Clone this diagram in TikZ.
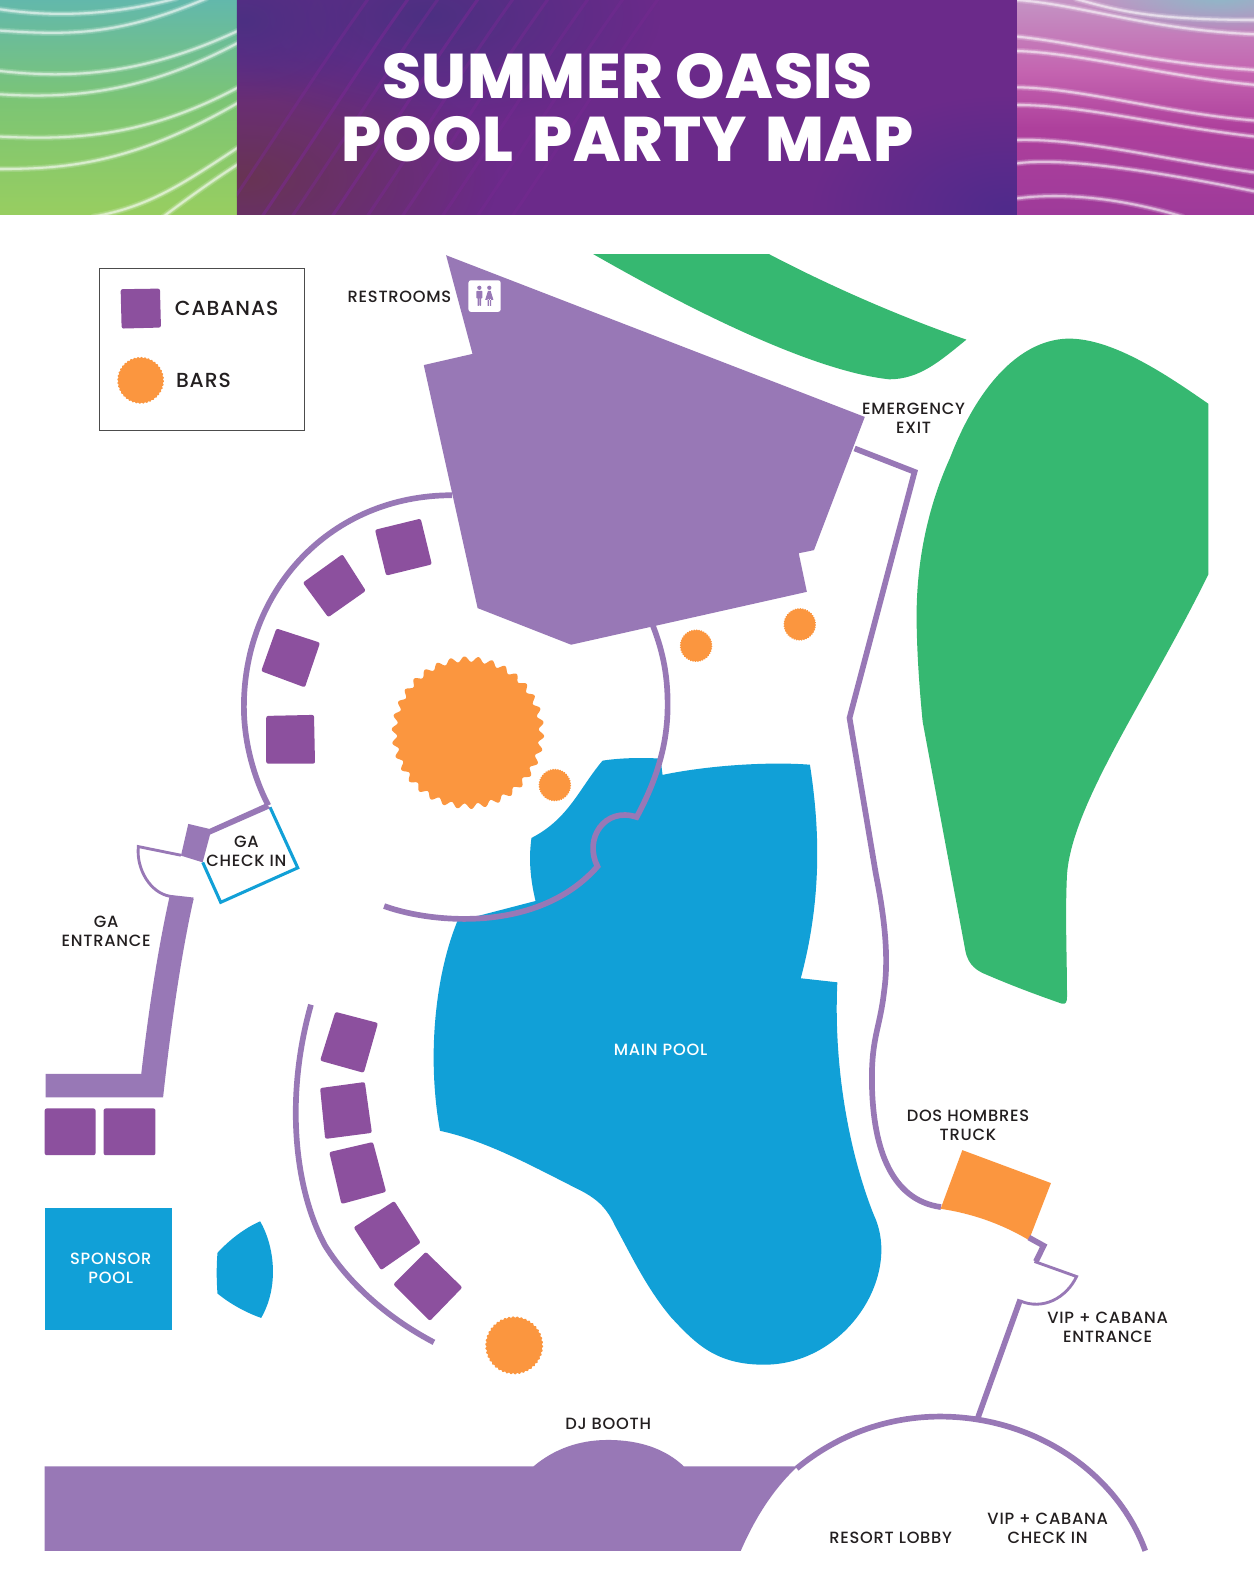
\documentclass[tikz,border=0pt]{standalone}
\usepackage{fontspec}
\setmainfont{Poppins Medium}[LetterSpace=4.5]
\newfontfamily\titlefont{Poppins ExtraBold}[LetterSpace=1]
\usetikzlibrary{fadings}
\tikzfading[name=softc,inner color=transparent!0,outer color=transparent!100]
\definecolor{roomp}{HTML}{9878B6}
\definecolor{cabp}{HTML}{8C509E}
\definecolor{barc}{HTML}{FB963F}
\definecolor{poolc}{HTML}{11A0D7}
\definecolor{lawn}{HTML}{36B871}
\definecolor{inkc}{HTML}{231F20}
\definecolor{titlep}{HTML}{6B2A8A}
\definecolor{gA}{RGB}{98,184,172}
\definecolor{gB}{RGB}{124,197,116}
\definecolor{gC}{RGB}{152,206,96}
\definecolor{cMar}{RGB}{104,52,84}
\definecolor{cBlu}{RGB}{76,48,130}
\definecolor{cBlr}{RGB}{80,42,140}
\definecolor{cLin}{RGB}{124,40,150}
\definecolor{mA}{RGB}{196,148,196}
\definecolor{mB}{RGB}{196,100,176}
\definecolor{mC}{RGB}{174,64,156}
\definecolor{mD}{RGB}{158,58,154}
\definecolor{mT}{RGB}{140,185,200}
\newcommand{\sunbar}[5]{\fill[barc] plot[domain=0:359.5,samples=720] ({#1+(#3-#4+#4*sin(#5*\x))*cos(\x)},{#2+(#3-#4+#4*sin(#5*\x))*sin(\x)}) -- cycle;}
\tikzset{
  wall/.style={draw=roomp,line width=5.6pt,fill=none},
  thinwall/.style={draw=roomp,line width=2.8pt,fill=none},
  cabana/.style={fill=cabp,rounded corners=2pt},
  room/.style={fill=roomp},
  pool/.style={fill=poolc},
  lawnfill/.style={fill=lawn},
  lbl/.style={text=inkc,font=\fontsize{16}{18.6}\selectfont,align=center,inner sep=0pt},
  wlbl/.style={lbl,text=white},
  wavea/.style={draw=white,line width=6pt,opacity=.16,line cap=round},
  wavem/.style={draw=white,line width=3.6pt,opacity=.22,line cap=round},
  waveb/.style={draw=white,line width=2pt,opacity=.5,line cap=round},
}
\newcommand{\wave}[4]{\draw[wavea] #1 .. controls #2 and #3 .. #4; \draw[wavem] #1 .. controls #2 and #3 .. #4; \draw[waveb] #1 .. controls #2 and #3 .. #4;}
\begin{document}
\begin{tikzpicture}[x=1pt,y=-1.0007pt]
\useasboundingbox (0,0) rectangle (1234,1567.5);
\fill[white] (0,0) rectangle (1234,1567.5);
% ---------- banner left
\begin{scope}
\clip (0,0) rectangle (233,211);
\shade[top color=gA,bottom color=gB] (0,-1) rectangle (233,100.5);
\shade[top color=gB,bottom color=gC] (0,100) rectangle (233,212);
\begin{scope}[x=.328pt,y=-.328pt]
\wave{(0,28)}{(150,50)}{(320,50)}{(530,-5)}
\wave{(0,92)}{(200,105)}{(350,110)}{(620,-5)}
\wave{(0,213)}{(200,235)}{(420,230)}{(715,92)}
\wave{(0,283)}{(200,295)}{(420,285)}{(715,128)}
\wave{(0,410)}{(200,418)}{(420,420)}{(715,262)}
\wave{(0,507)}{(200,507)}{(400,490)}{(715,308)}
\wave{(280,650)}{(450,620)}{(550,550)}{(715,442)}
\wave{(490,650)}{(570,590)}{(640,540)}{(715,492)}
\end{scope}
\end{scope}
% ---------- banner centre
\begin{scope}
\clip (233,0) rectangle (1001,211);
\fill[titlep] (233,-1) rectangle (1001,212);
\fill[cMar,path fading=softc] (240,175) ellipse (250 and 130);
\fill[cBlu,path fading=softc] (420,15) ellipse (230 and 110);
\fill[cBlu,path fading=softc] (240,20) ellipse (120 and 80);
\fill[cBlr,path fading=softc] (990,205) ellipse (190 and 110);
\begin{scope}[shift={(232.2,0)},x=.492pt,y=-.492pt]
\foreach \s/\o in {-60/.4,20/.5,80/.4,160/.5,230/.4,300/.4,380/.35,450/.3,520/.3}{
  \draw[draw=cLin,line width=3pt,opacity=\o] (\s-120,650) .. controls (\s+50,420) and (\s+200,170) .. (\s+330,-10);
}
\foreach \s in {0,60,120}{
  \draw[draw=cLin,line width=2.5pt,opacity=.35] (1230+\s,650) .. controls (1300+\s,540) and (1400+\s,480) .. (1570,440+\s);
}
\end{scope}
\end{scope}
% ---------- banner right
\begin{scope}
\clip (1001,0) rectangle (1234,211);
\shade[top color=mA,bottom color=mB] (1001,-1) rectangle (1234,70.5);
\shade[top color=mB,bottom color=mC] (1001,70) rectangle (1234,125.5);
\shade[top color=mC,bottom color=mD] (1001,125) rectangle (1234,212);
\fill[mT,path fading=softc] (1200,-5) ellipse (130 and 40);
\begin{scope}[shift={(999.8,0)},x=.328pt,y=-.328pt]
\wave{(180,-3)}{(300,30)}{(400,60)}{(720,60)}
\wave{(5,0)}{(200,15)}{(400,90)}{(720,103)}
\wave{(5,110)}{(200,130)}{(400,190)}{(720,210)}
\wave{(5,153)}{(200,160)}{(450,230)}{(720,255)}
\wave{(5,262)}{(200,265)}{(450,340)}{(720,362)}
\wave{(5,315)}{(200,315)}{(450,380)}{(720,410)}
\wave{(5,420)}{(200,415)}{(450,480)}{(720,518)}
\wave{(5,490)}{(150,470)}{(450,520)}{(720,575)}
\wave{(5,595)}{(200,570)}{(400,620)}{(500,650)}
\end{scope}
\end{scope}
\node[text=white,font=\titlefont\fontsize{62}{61.5}\selectfont,align=center,inner sep=0pt] (title) at (617.5,106) {SUMMER OASIS\\POOL\hspace{6pt} PARTY\hspace{6pt} MAP};
% ---------- green
\fill[lawnfill] (584,250) -- (757,250) .. controls (820,283) and (890,313) .. (951,334) .. controls (925,355) and (905,373) .. (875,373) .. controls (800,365) and (680,305) .. (584,250) -- cycle;
\fill[lawnfill] (1189,397) .. controls (1150,370) and (1095,332) .. (1050,333) .. controls (1000,335) and (960,385) .. (935,450) .. controls (910,505) and (902,560) .. (902,605) .. controls (902,640) and (905,680) .. (908,710) -- (950,935) .. controls (953,950) and (962,955) .. (972,959) .. controls (1000,971) and (1025,980) .. (1045,987) .. controls (1049,988) and (1050,985) .. (1050,980) .. controls (1050,940) and (1048,900) .. (1050,860) .. controls (1055,790) and (1130,685) .. (1189,565) -- cycle;
% ---------- main pool
\fill[pool] (593,748) .. controls (612,745) and (635,745) .. (650,746) -- (652,762) .. controls (700,752) and (760,749) .. (797,752) .. controls (806,810) and (810,880) .. (788,962) -- (824,966) .. controls (820,1050) and (836,1135) .. (860,1195) .. controls (888,1255) and (832,1342) .. (752,1342) .. controls (705,1342) and (685,1322) .. (660,1295) .. controls (635,1265) and (620,1232) .. (605,1205) .. controls (598,1190) and (590,1180) .. (570,1170) .. controls (530,1150) and (480,1122) .. (433,1112) .. controls (420,1040) and (428,960) .. (450,906) -- (527,886) .. controls (522,865) and (520,845) .. (523,824) .. controls (560,805) and (570,775) .. (593,748) -- cycle;
% ---------- sponsor pool
\fill[pool] (44,1188) rectangle (169,1308);
\fill[pool] (256,1201) .. controls (270,1225) and (275,1265) .. (257,1296) .. controls (240,1290) and (225,1281) .. (214,1272) .. controls (213,1258) and (213,1245) .. (214,1232) .. controls (225,1220) and (240,1208) .. (256,1201) -- cycle;
% ---------- building
\fill[room] (439,251) -- (851,410) -- (801,541) -- (786,544) -- (794,582) -- (562,634) -- (470,598) -- (417,359) -- (465,348) -- cycle;
% restroom icon
\fill[white,rounded corners=2.5pt] (461,275.6) rectangle (492.7,306.7);
\fill[roomp] (471.7,283) circle (2.1) (481.5,283) circle (2.1);
\fill[roomp,rounded corners=.6pt] (468.8,286) rectangle (474.6,293.5) (469.9,292) rectangle (471.4,300.8) (472,292) rectangle (473.5,300.8);
\fill[roomp] (480.2,286) -- (482.8,286) -- (485.6,295) -- (477.4,295) -- cycle (479.8,294) rectangle (481,300.8) (482,294) rectangle (483.2,300.8);
% ---------- walls
\draw[wall] (445,487) .. controls (325,487) and (240,580) .. (240,695) .. controls (240,730) and (250,765) .. (264,792);
\draw[wall] (378,891) .. controls (425,908) and (530,918) .. (588,852) .. controls (574,825) and (595,793) .. (626.5,803.5) .. controls (650,760) and (657,725) .. (657,693) .. controls (657,660) and (651,637) .. (642,614);
\draw[draw=poolc,line width=3pt,line join=miter] (265.7,793.8) -- (293,853.4) -- (217.2,887.3) -- (199.5,848);
\fill[room] (185.3,810.2) -- (206,815.1) -- (260.8,790.5) -- (266.4,794.5) -- (206.7,820.7) -- (199.4,848) -- (178.1,841.4) -- cycle;
\draw[thinwall] (178,841) -- (136.1,832.5) .. controls (134,855) and (148,878) .. (167.3,881.4) -- (190.3,884);
\fill[room] (167,881) -- (190.5,884) .. controls (178,940) and (168,1010) .. (160.5,1079) -- (45,1079) -- (45,1056) -- (139,1056) .. controls (146,995) and (155,935) .. (167,881) -- cycle;
\draw[wall] (841,441) -- (900,464) -- (836,706) -- (862,860) .. controls (870,900) and (875,940) .. (870,975) .. controls (866,1010) and (858,1020) .. (858,1060) .. controls (858,1125) and (875,1180) .. (926,1187);
\fill[barc] (947,1131) -- (1034.2,1163.4) -- (1012.5,1219.5) .. controls (985,1203) and (955,1193) .. (925.6,1188.7) -- cycle;
\draw[wall,line join=miter] (1012.5,1217) -- (1027,1225) -- (1019.4,1240.5);
\draw[thinwall] (1018,1240.5) -- (1059.4,1255.3) .. controls (1049.6,1276) and (1026.6,1289) .. (1003.7,1279.2);
\draw[wall] (1004,1278) -- (962,1395);
\draw[wall] (306,988) .. controls (280,1080) and (290,1170) .. (320,1225) .. controls (345,1265) and (385,1298) .. (427,1320);
% ---------- band + lobby
\fill[room] (44,1442) -- (525,1442) .. controls (545,1425) and (570,1416) .. (598,1416) .. controls (630,1416) and (655,1425) .. (673,1442) -- (785,1442) .. controls (760,1465) and (742,1495) .. (729,1525) -- (44,1525) -- cycle;
\draw[wall] (784,1444) .. controls (825,1410) and (875,1393) .. (925,1393) .. controls (1020,1393) and (1100,1450) .. (1127,1525);
% ---------- cabanas
\fill[cabana] (369,521) -- (414,510) -- (425,555) -- (380,566) -- cycle;
\fill[cabana] (298,573) -- (337,545) -- (360,581) -- (323,607) -- cycle;
\fill[cabana] (272,618) -- (315,632) -- (300,676) -- (257,660) -- cycle;
\fill[cabana] (262,704) -- (309,703) -- (310,751) -- (262,751) -- cycle;
\fill[cabana] (330,995) -- (372,1006) -- (358,1055) -- (315,1043) -- cycle;
\fill[cabana] (315,1070) -- (359,1064) -- (366,1114) -- (320,1120) -- cycle;
\fill[cabana] (324,1133) -- (367,1123) -- (380,1172) -- (336,1184) -- cycle;
\fill[cabana] (348,1207) -- (388,1181) -- (414,1222) -- (375,1249) -- cycle;
\fill[cabana] (387,1263) -- (419,1231) -- (455,1266) -- (423,1299) -- cycle;
\fill[cabana] (44,1090) rectangle (94,1136);
\fill[cabana] (102,1090) rectangle (153,1136);
% ---------- bars
\sunbar{460.5}{720.5}{75}{2.6}{34}
\sunbar{546}{772}{16}{.45}{40}
\sunbar{685}{635}{16}{.45}{40}
\sunbar{787}{614}{16}{.45}{40}
\sunbar{506}{1323}{28.5}{.6}{42}
% ---------- legend
\draw[draw=black!70,line width=1pt] (98,264) rectangle (299.4,423.8);
\fill[cabana] (118.7,284.4) -- (157.4,283.8) -- (158.4,322.1) -- (119.7,323.1) -- cycle;
\sunbar{138.4}{374}{23}{.5}{40}
\node[lbl,anchor=west,font=\fontsize{20}{24}\selectfont] (lcab) at (172,303.5) {CABANAS};
\node[lbl,anchor=west,font=\fontsize{20}{24}\selectfont] (lbar) at (173,374) {BARS};
% ---------- labels
\node[lbl,anchor=west] (rest) at (342,292) {RESTROOMS};
\node[lbl] (emerg) at (899,411.5) {EMERGENCY\\EXIT};
\node[lbl] (gaent) at (104.5,915.5) {GA\\ENTRANCE};
\node[lbl] (gachk) at (242.5,837) {GA\\CHECK IN};
\node[lbl] (dos) at (952.5,1107) {DOS HOMBRES\\TRUCK};
\node[lbl] (vipent) at (1090,1305.5) {VIP + CABANA\\ENTRANCE};
\node[lbl] (djb) at (598.5,1400) {DJ BOOTH};
\node[lbl] (lobby) at (876.5,1512) {RESORT LOBBY};
\node[lbl] (vipchk) at (1031,1503) {VIP + CABANA\\CHECK IN};
\node[wlbl] (mainp) at (650,1032) {MAIN POOL};
\node[wlbl] (spons) at (109,1247) {SPONSOR\\POOL};
\end{tikzpicture}
\end{document}
